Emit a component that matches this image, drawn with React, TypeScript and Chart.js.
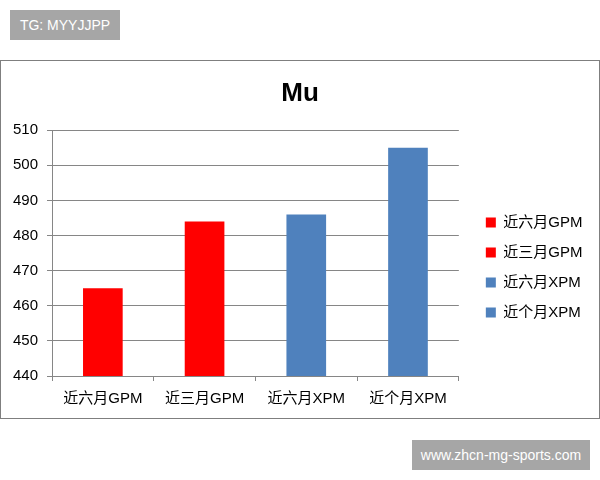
import { useEffect, useRef } from "react"
import { Chart, registerables } from "chart.js"

Chart.register(...registerables)

const categories = ["近六月GPM", "近三月GPM", "近六月XPM", "近个月XPM"]
const values = [465, 484, 486, 505]
const barColors = ["#ff0000", "#ff0000", "#4f81bd", "#4f81bd"]
const yTicks = [440, 450, 460, 470, 480, 490, 500, 510]
const chartTitle = "Mu"

const FONT = '"Liberation Sans", Arial, "Noto Sans CJK SC", sans-serif'
const GRID = "#868686"

// Excel puts the legend a little further right and lower than Chart.js does,
// and centres the title on the whole chart box rather than the padded one
const excelLayout = {
	id: "excelLayout",
	afterLayout(chart: Chart) {
		const legend = chart.legend
		if (legend) {
			legend.left += 12
			legend.right += 12
			legend.top += 28
			legend.bottom += 28
		}
		const title = (chart as any).titleBlock
		if (title) {
			title.left = 0
			title.right = chart.width
			title.width = chart.width
		}
	},
}

function BarChart() {
	const chartRef = useRef<HTMLCanvasElement>(null)
	const chartInstance = useRef<Chart | null>(null)

	useEffect(() => {
		if (!chartRef.current) return
		if (chartInstance.current) chartInstance.current.destroy()

		chartInstance.current = new Chart(chartRef.current, {
			type: "bar",
			data: {
				labels: categories,
				datasets: [
					{
						data: values,
						backgroundColor: barColors,
						borderWidth: 0,
						categoryPercentage: 1,
						barPercentage: 0.39,
					},
				],
			},
			options: {
				responsive: false,
				animation: false,
				devicePixelRatio: 1,
				layout: { padding: { top: 0, left: 0, right: 18.5, bottom: 0 } },
				plugins: {
					title: {
						display: true,
						text: chartTitle,
						color: "#000",
						font: { family: FONT, size: 26, weight: "bold" },
						padding: { top: 17.5, bottom: 20.5 },
					},
					legend: {
						position: "right",
						labels: {
							boxWidth: 10,
							boxHeight: 10,
							padding: 15,
							color: "#000",
							font: { family: FONT, size: 15 },
							generateLabels: () =>
								categories.map((c, i) => ({
									text: c,
									fillStyle: barColors[i],
									strokeStyle: barColors[i],
									lineWidth: 0,
									hidden: false,
									index: i,
									datasetIndex: 0,
								})),
						},
					},
					tooltip: { enabled: false },
				},
				scales: {
					x: {
						grid: { drawOnChartArea: false, tickLength: 5, color: GRID, offset: true },
						border: { color: GRID },
						ticks: { color: "#000", font: { family: FONT, size: 15 }, padding: 9 },
						afterFit: (s) => {
							s.height = 42
						},
					},
					y: {
						min: yTicks[0],
						max: yTicks[yTicks.length - 1],
						ticks: {
							stepSize: yTicks[1] - yTicks[0],
							color: "#000",
							font: { family: FONT, size: 15 },
							padding: 9,
						},
						grid: { color: GRID, tickLength: 5 },
						border: { color: GRID },
						afterFit: (s) => {
							s.width = 51
						},
					},
				},
			},
			plugins: [excelLayout],
		})

		return () => {
			if (chartInstance.current) {
				chartInstance.current.destroy()
				chartInstance.current = null
			}
		}
	}, [])

	return <canvas ref={chartRef} width={598} height={357} style={{ display: "block" }}></canvas>
}

const tagStyle: React.CSSProperties = {
	position: "absolute",
	background: "#a6a6a6",
	color: "#fff",
	fontFamily: FONT,
	fontSize: 14,
	display: "flex",
	alignItems: "center",
	justifyContent: "center",
}

export default function App() {
	return (
		<div style={{ position: "absolute", left: 0, top: 0, width: 600, height: 480, background: "#fff" }}>
			<div style={{ ...tagStyle, left: 10, top: 10, width: 110, height: 30 }}>TG: MYYJJPP</div>
			<div
				style={{
					position: "absolute",
					left: 0,
					top: 60,
					width: 600,
					height: 359,
					boxSizing: "border-box",
					border: "1px solid #7f7f7f",
				}}
			>
				<BarChart />
			</div>
			<div style={{ ...tagStyle, left: 412, top: 440, width: 178, height: 30 }}>www.zhcn-mg-sports.com</div>
		</div>
	)
}
